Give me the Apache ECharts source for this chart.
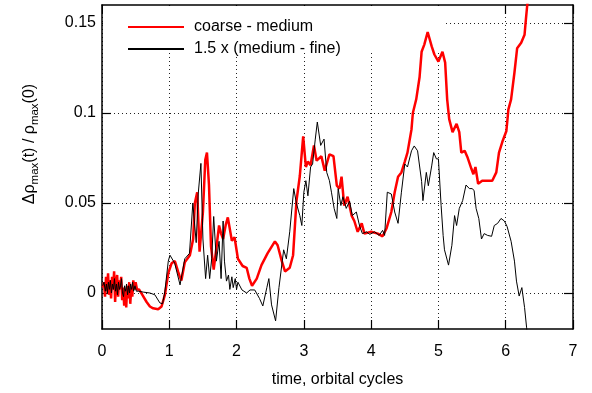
<!DOCTYPE html>
<html>
<head>
<meta charset="utf-8">
<script src="https://cdn.jsdelivr.net/npm/echarts@6/dist/echarts.min.js"></script>
<style>
  html, body { margin: 0; padding: 0; background: #fff; }
  #chart { width: 592px; height: 393px; }
</style>
</head>
<body>
<div id="chart"></div>
<script>
// time, orbital cycles — coarse vs medium resolution difference
const coarseTime = [
  0.01, 0.03, 0.045, 0.06, 0.075, 0.09, 0.105, 0.12, 0.135, 0.15, 0.165, 0.18, 0.195, 0.21, 0.225,
  0.24, 0.255, 0.27, 0.285, 0.3, 0.315, 0.33, 0.345, 0.36, 0.375, 0.39, 0.405, 0.42, 0.435, 0.45,
  0.465, 0.48, 0.5, 0.52, 0.55, 0.6, 0.663, 0.712, 0.76, 0.835, 0.885, 0.935, 0.985, 1.034, 1.083,
  1.13, 1.157, 1.18, 1.23, 1.306, 1.355, 1.38, 1.415, 1.45, 1.5, 1.535, 1.56, 1.59, 1.62, 1.66,
  1.7, 1.74, 1.77, 1.8, 1.84, 1.87, 1.93, 1.97, 2.02, 2.09, 2.15, 2.19, 2.23, 2.3, 2.37,
  2.46, 2.57, 2.61, 2.67, 2.72, 2.79, 2.84, 2.89, 2.94, 2.99, 3.03, 3.06, 3.1, 3.15, 3.19,
  3.26, 3.31, 3.38, 3.44, 3.49, 3.53, 3.56, 3.6, 3.65, 3.71, 3.75, 3.8, 3.86, 3.9, 4.0,
  4.1, 4.17, 4.23, 4.3, 4.35, 4.4, 4.45, 4.5, 4.54, 4.6, 4.62, 4.67, 4.72, 4.75, 4.79,
  4.84, 4.9, 4.94, 5.0, 5.06, 5.1, 5.13, 5.16, 5.21, 5.27, 5.31, 5.34, 5.39, 5.43, 5.49,
  5.52, 5.55, 5.59, 5.65, 5.8, 5.86, 5.9, 5.95, 6.01, 6.04, 6.08, 6.13, 6.17, 6.23, 6.28,
  6.3, 6.32, 6.35
];
const coarseValue = [
  0.003, 0.006, -0.002, 0.009, 0.001, 0.011, -0.001, 0.007, -0.003, 0.009, 0.002, 0.012, -0.005, 0.006, 0.010,
  -0.002, 0.007, 0.002, 0.009, -0.004, 0.003, -0.007, 0.002, -0.008, 0.004, -0.003, 0.006, -0.006, 0.003, -0.002,
  0.007, 0.002, 0.006, 0.002, 0.002, -0.001, -0.005, -0.0075, -0.0085, -0.009, -0.0075, -0.001, 0.011, 0.0165, 0.0177,
  0.012, 0.009, 0.007, 0.017, 0.021, 0.030, 0.050, 0.056, 0.023, 0.045, 0.074, 0.078, 0.060, 0.026, 0.013,
  0.025, 0.0375, 0.033, 0.030, 0.038, 0.042, 0.029, 0.031, 0.019, 0.015, 0.014, 0.008, 0.004, 0.008, 0.0155,
  0.022, 0.0287, 0.0265, 0.018, 0.012, 0.014, 0.021, 0.051, 0.065, 0.087, 0.070, 0.073, 0.071, 0.082, 0.0735,
  0.076, 0.068, 0.077, 0.076, 0.0596, 0.058, 0.0646, 0.0486, 0.0535, 0.043, 0.040, 0.034, 0.0387, 0.033, 0.034,
  0.033, 0.0315, 0.036, 0.045, 0.056, 0.0646, 0.067, 0.073, 0.078, 0.091, 0.100, 0.1076, 0.120, 0.134, 0.138,
  0.145, 0.137, 0.1325, 0.1286, 0.134, 0.128, 0.1076, 0.0966, 0.0894, 0.094, 0.0894, 0.078, 0.079, 0.0756, 0.069,
  0.066, 0.070, 0.0607, 0.0624, 0.0624, 0.067, 0.078, 0.084, 0.090, 0.102, 0.1076, 0.1225, 0.136, 0.139, 0.1435,
  0.152, 0.160, 0.168
];

// 1.5 x (medium - fine)
const fineTime = [
  0.01, 0.03, 0.05, 0.065, 0.08, 0.095, 0.11, 0.125, 0.14, 0.155, 0.17, 0.185, 0.2, 0.215, 0.23,
  0.245, 0.26, 0.275, 0.29, 0.305, 0.32, 0.335, 0.35, 0.365, 0.38, 0.395, 0.41, 0.425, 0.44, 0.455,
  0.47, 0.49, 0.51, 0.54, 0.613, 0.712, 0.786, 0.86, 0.9, 0.935, 0.985, 1.01, 1.08, 1.16, 1.23,
  1.3, 1.35, 1.4, 1.43, 1.47, 1.5, 1.54, 1.57, 1.6, 1.63, 1.66, 1.7, 1.74, 1.77, 1.8,
  1.82, 1.85, 1.88, 1.9, 1.93, 1.95, 1.98, 2.0, 2.02, 2.08, 2.15, 2.2, 2.27, 2.34, 2.39,
  2.45, 2.48, 2.52, 2.58, 2.63, 2.67, 2.7, 2.74, 2.79, 2.85, 2.89, 2.94, 2.97, 3.0, 3.03,
  3.06, 3.1, 3.13, 3.17, 3.2, 3.25, 3.3, 3.34, 3.38, 3.41, 3.45, 3.49, 3.51, 3.55, 3.58,
  3.63, 3.68, 3.72, 3.78, 3.83, 3.87, 3.93, 3.98, 4.05, 4.12, 4.17, 4.2, 4.24, 4.3, 4.35,
  4.4, 4.45, 4.5, 4.54, 4.6, 4.64, 4.69, 4.75, 4.77, 4.82, 4.85, 4.9, 4.93, 4.97, 5.0,
  5.04, 5.07, 5.09, 5.15, 5.2, 5.24, 5.27, 5.31, 5.36, 5.41, 5.46, 5.5, 5.53, 5.56, 5.6,
  5.64, 5.68, 5.73, 5.79, 5.83, 5.88, 5.93, 5.98, 6.02, 6.08, 6.13, 6.16, 6.2, 6.24, 6.28,
  6.31, 6.33
];
const fineValue = [
  0.004, 0.006, 0.001, 0.005, 0.0, 0.006, 0.002, 0.007, 0.0, 0.005, 0.002, 0.008, 0.001, 0.005, -0.001,
  0.006, 0.002, 0.004, 0.008, 0.0, -0.002, 0.004, 0.001, 0.005, -0.001, 0.004, 0.0, 0.005, 0.002, 0.006,
  0.001, 0.004, 0.001, 0.001, 0.0005, 0.0, -0.001, -0.0055, -0.006, 0.001, 0.0177, 0.021, 0.0166, 0.0045, 0.019,
  0.022, 0.050, 0.028, 0.055, 0.072, 0.030, 0.008, 0.021, 0.008, 0.019, 0.0425, 0.0177, 0.0287, 0.008, 0.040,
  0.0177, 0.0066, 0.010, 0.002, 0.009, 0.003, 0.008, 0.002, 0.006, 0.0017, 0.0, 0.0017, 0.0017, -0.003, -0.0072,
  0.003, 0.008, -0.0066, -0.0155, 0.003, 0.015, 0.024, 0.019, 0.034, 0.058, 0.0497, 0.043, 0.0375, 0.056, 0.0624,
  0.054, 0.070, 0.0717, 0.0855, 0.095, 0.082, 0.0855, 0.067, 0.0624, 0.056, 0.047, 0.0414, 0.058, 0.0486, 0.0535,
  0.047, 0.051, 0.043, 0.045, 0.037, 0.033, 0.034, 0.0326, 0.034, 0.032, 0.0348, 0.032, 0.056, 0.055, 0.045,
  0.0387, 0.056, 0.0717, 0.070, 0.079, 0.0817, 0.079, 0.062, 0.0513, 0.067, 0.0596, 0.0706, 0.078, 0.0745, 0.0745,
  0.0486, 0.032, 0.024, 0.0155, 0.0265, 0.043, 0.0375, 0.047, 0.0513, 0.060, 0.058, 0.058, 0.057, 0.047, 0.0414,
  0.030, 0.033, 0.032, 0.0315, 0.0375, 0.0387, 0.0414, 0.040, 0.037, 0.0287, 0.0177, 0.0066, -0.0017, 0.003, -0.008,
  -0.019, -0.026
];

const xTicks = [0, 1, 2, 3, 4, 5, 6, 7];
const yTicks = [0, 0.05, 0.1, 0.15];
const seriesNames = ['coarse - medium', '1.5 x (medium - fine)'];

const FONT = '"Liberation Sans", Arial, Helvetica, sans-serif';
const pairs = (xs, ys) => xs.map((x, i) => [x, ys[i]]);

const chart = echarts.init(document.getElementById('chart'), null, { renderer: 'canvas' });

const frameLine = { show: true, onZero: false, lineStyle: { color: '#000', width: 1.5 } };
const innerTick = { show: true, inside: true, length: 9, lineStyle: { color: '#000', width: 1.2 } };
const dotted = { show: true, lineStyle: { color: '#222', width: 1, type: [1, 3] } };

chart.setOption({
  animation: false,
  backgroundColor: '#fff',
  grid: { left: 102, right: 19, top: 5, bottom: 62, containLabel: false },
  legend: {
    data: seriesNames,
    orient: 'vertical',
    left: 122,
    top: 14,
    itemWidth: 56,
    itemHeight: 12,
    itemGap: 6,
    itemStyle: { opacity: 0 },
    textStyle: { fontFamily: FONT, fontSize: 16, color: '#000', padding: [0, 0, 0, 5] }
  },
  xAxis: [
    {
      type: 'value', min: 0, max: 7, interval: 1, position: 'bottom',
      axisLine: frameLine, axisTick: Object.assign({ customValues: xTicks }, innerTick),
      splitLine: dotted,
      axisLabel: { show: true, customValues: xTicks, margin: 15, fontFamily: FONT, fontSize: 16, color: '#000' },
      name: 'time, orbital cycles', nameLocation: 'middle', nameGap: 43,
      nameTextStyle: { fontFamily: FONT, fontSize: 16, color: '#000' }
    },
    {
      type: 'value', min: 0, max: 7, interval: 1, position: 'top',
      axisLine: frameLine, axisTick: Object.assign({ customValues: xTicks }, innerTick),
      splitLine: { show: false },
      axisLabel: { show: false }
    }
  ],
  yAxis: [
    {
      type: 'value', min: -0.02, max: 0.16, position: 'left',
      axisLine: frameLine,
      axisTick: Object.assign({ customValues: yTicks }, innerTick),
      splitLine: dotted,
      axisLabel: { show: true, customValues: yTicks, margin: 6, fontFamily: FONT, fontSize: 16, color: '#000' }
    },
    {
      type: 'value', min: -0.02, max: 0.16, position: 'right',
      axisLine: frameLine,
      axisTick: Object.assign({ customValues: yTicks }, innerTick),
      splitLine: { show: false },
      axisLabel: { show: false, customValues: yTicks }
    }
  ],
  graphic: [
    // key box background
    {
      type: 'rect', z: 1, silent: true,
      shape: { x: 103, y: 6, width: 340, height: 46 },
      style: { fill: '#fff' }
    },
    // y axis title with subscripts
    {
      type: 'text', x: 30, y: 144, rotation: Math.PI / 2, z: 5,
      style: {
        text: '{n|Δρ}{s|max}{n|(t) / ρ}{s|max}{n|(0)}',
        align: 'center', verticalAlign: 'middle',
        fill: '#000',
        rich: {
          n: { fontFamily: FONT, fontSize: 16, lineHeight: 22, fill: '#000', verticalAlign: 'middle' },
          s: { fontFamily: FONT, fontSize: 11.5, lineHeight: 11, fill: '#000', verticalAlign: 'bottom' }
        }
      }
    }
  ],
  series: [
    {
      name: seriesNames[0], type: 'line', xAxisIndex: 0, yAxisIndex: 0,
      data: pairs(coarseTime, coarseValue),
      symbol: 'none', showSymbol: false, clip: true, z: 3,
      lineStyle: { color: '#ff0000', width: 2.5 }, itemStyle: { color: '#ff0000' }
    },
    {
      name: seriesNames[1], type: 'line', xAxisIndex: 0, yAxisIndex: 0,
      data: pairs(fineTime, fineValue),
      symbol: 'none', showSymbol: false, clip: true, z: 4,
      lineStyle: { color: '#000', width: 1 }, itemStyle: { color: '#000' }
    }
  ]
});
</script>
</body>
</html>
